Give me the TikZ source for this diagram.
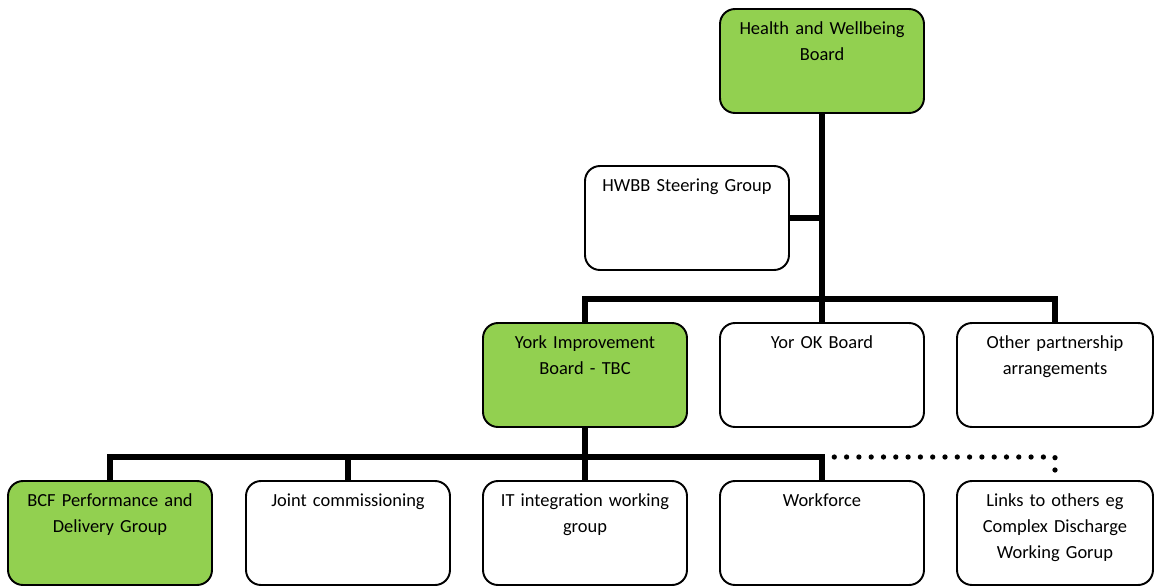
\documentclass[tikz,border=0pt]{standalone}
\usepackage{fontspec}
\setmainfont{Carlito}
\usetikzlibrary{positioning}
\definecolor{boardgreen}{HTML}{92D050}
\tikzstyle{group-node}=[draw=black,line width=1.1pt,rounded corners=8.5pt,fill=white,minimum width=4.08cm,minimum height=2.08cm,inner sep=0pt]
\tikzstyle{lead-node}=[group-node,fill=boardgreen]
\tikzstyle{edge-node}=[group-node,minimum width=3.92cm]
\tikzstyle{group-text}=[anchor=north,align=center,text width=3.9cm,inner sep=0pt,yshift=-7.5pt,font=\fontsize{10.5}{14.7}\selectfont]
\tikzstyle{link}=[line width=3.4pt]
\tikzstyle{loose-link}=[line width=3pt,line cap=round,dash pattern=on 0pt off 7pt]

\begin{document}
\begin{tikzpicture}[x=0.02cm,y=-0.02cm]
    \useasboundingbox (0,0) rectangle (1154,586);
    \begin{scope}
        \node[lead-node, label={[group-text]north:{Health and Wellbeing\\Board}}] at (822,61) (hwb) {};
        \node[group-node, label={[group-text]north:{HWBB Steering Group}}] at (687,218) (steer) {};
        \node[lead-node, label={[group-text]north:{York Improvement\\Board - TBC}}] at (585,375) (yib) {};
        \node[group-node, label={[group-text]north:{Yor OK Board}}] at (822,375) (yok) {};
        \node[edge-node, label={[group-text]north:{Other partnership\\arrangements}}] at (1055,375) (other) {};
        \node[lead-node, label={[group-text]north:{BCF Performance and\\Delivery Group}}] at (110,533) (bcf) {};
        \node[group-node, label={[group-text]north:{Joint commissioning}}] at (348,533) (joint) {};
        \node[group-node, label={[group-text]north:{IT integration working\\group}}] at (585,533) (itg) {};
        \node[group-node, label={[group-text]north:{Workforce}}] at (822,533) (wf) {};
        \node[edge-node, label={[group-text]north:{Links to others eg\\Complex Discharge\\Working Gorup}}] at (1055,533) (links) {};

        \coordinate (top-bus) at (822,299);
        \coordinate (low-bus) at (585,457);

        \draw[link] (hwb) -- (yok);
        \draw[link] (steer) -- (steer -| hwb.south);
        \draw[link] (yib) |- (top-bus) -| (other);
        \draw[link] (yib) -- (itg);
        \draw[link] (bcf) |- (low-bus) -| (wf);
        \draw[link] (joint) -- (joint |- low-bus);
        \draw[loose-link] (wf |- low-bus) -| (links);
    \end{scope}
\end{tikzpicture}
\end{document}
